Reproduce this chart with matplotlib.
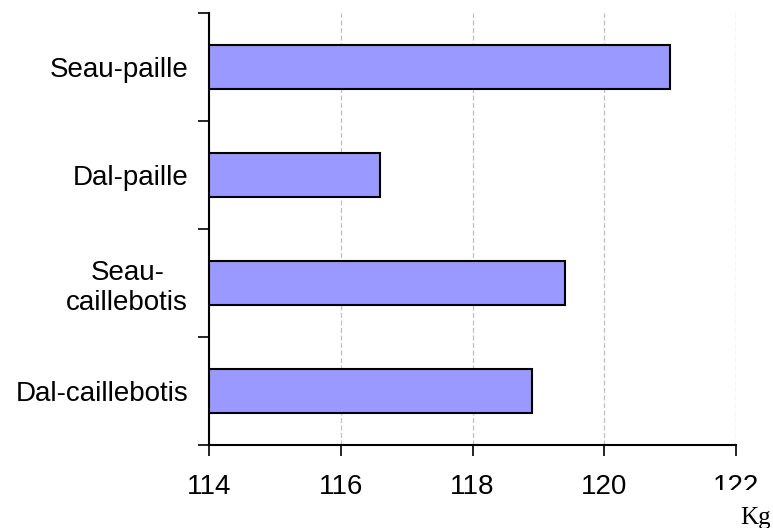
import matplotlib
matplotlib.use("Agg")
import matplotlib.pyplot as plt
from matplotlib.patches import Rectangle

categories = ["Seau-paille", "Dal-paille", "Seau-\ncaillebotis", "Dal-caillebotis"]
values = [121.0, 116.59, 119.41, 118.90]
x_ticks = [114, 116, 118, 120, 122]
unit_label = "Kg"

plt.rcParams["font.family"] = ["Liberation Sans", "DejaVu Sans"]

fig = plt.figure(figsize=(7.73, 5.28), dpi=100)
ax = fig.add_axes([0.2704, 0.1572, 0.6818, 0.8182])

pos = list(range(len(categories)))
ax.barh(pos, [v - x_ticks[0] for v in values], left=x_ticks[0], height=0.41,
        color="#9999ff", edgecolor="black", linewidth=1.5, zorder=3)

ax.set_xlim(x_ticks[0], x_ticks[-1])
ax.set_ylim(len(categories) - 0.5, -0.5)

ax.set_xticks(x_ticks)
ax.set_xticklabels([str(t) for t in x_ticks], fontsize=20)
ax.tick_params(axis="x", direction="out", length=8, width=1.2, pad=13)

ax.set_yticks(pos)
ax.set_yticklabels(categories, fontsize=20, ha="right", multialignment="center")
ax.tick_params(axis="y", which="major", length=0, pad=15)
ax.set_yticks([p - 0.5 for p in pos] + [len(categories) - 0.5], minor=True)
ax.tick_params(axis="y", which="minor", direction="out", length=8, width=1.2)

ax.grid(axis="x", color="#c0c0c0", linestyle=(0, (4, 2)), linewidth=0.9, zorder=0)
ax.set_axisbelow(True)

for s in ["top", "right"]:
    ax.spines[s].set_visible(False)
for s in ["left", "bottom"]:
    ax.spines[s].set_linewidth(1.5)

# white box hiding the lower half of the last tick label, as in the original
fig.patches.append(Rectangle((700 / 773, 0), 73 / 773, 38 / 528, transform=fig.transFigure,
                             facecolor="white", edgecolor="none", zorder=5))
fig.text(771 / 773, 4 / 528, unit_label, ha="right", va="baseline", fontsize=18,
         family="Liberation Serif", zorder=6)

fig.savefig("out.png", dpi=100)
